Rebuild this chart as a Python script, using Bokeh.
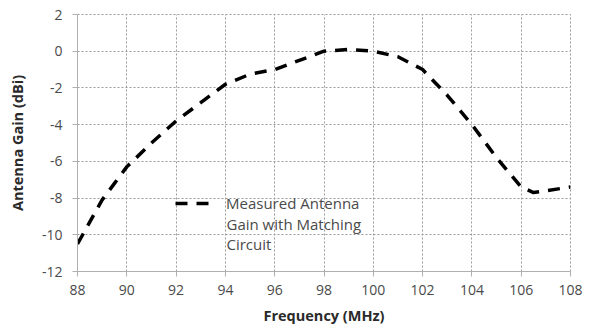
from bokeh.plotting import figure
from bokeh.models import FixedTicker, Legend, LegendItem, Range1d, Label
from bokeh.embed import file_html
from bokeh.resources import INLINE

freq = [88, 88.5, 89, 89.5, 90, 91, 92, 93, 94, 95, 96, 97, 98, 99, 100, 101, 102, 103, 104, 105, 105.5, 106, 106.5, 107, 108]
gain = [-10.5, -9.3, -8.1, -7.2, -6.3, -5.0, -3.8, -2.8, -1.8, -1.25, -1.0, -0.5, 0.0, 0.1, 0.0, -0.3, -1.0, -2.4, -4.0, -5.8, -6.6, -7.4, -7.7, -7.6, -7.4]

x_ticks = [88, 90, 92, 94, 96, 98, 100, 102, 104, 106, 108]
y_ticks = [2, 0, -2, -4, -6, -8, -10, -12]
y_tick_labels = ["2", "0", "-2", "-4", "-6", "-8", "-10", "-12"]
x_title = "Frequency (MHz)"
y_title = "Antenna Gain (dBi)"
series_lines = ["Measured Antenna", "Gain with Matching", "Circuit"]

FONT = "Open Sans"
GRID = "#9a9a9a"
TXT = "#4a4a4a"

p = figure(width=594, height=330, output_backend="svg", toolbar_location=None,
           x_range=Range1d(88, 108), y_range=Range1d(-12, 2),
           min_border_left=77, min_border_right=24, min_border_top=14, min_border_bottom=59)

r = p.line(freq, gain, line_color="black", line_width=3.5, line_dash="12 9")

p.xaxis.ticker = FixedTicker(ticks=x_ticks)
p.yaxis.ticker = FixedTicker(ticks=y_ticks)
p.yaxis.major_label_overrides = {t: s for t, s in zip(y_ticks, y_tick_labels)}
p.xaxis.axis_label = x_title
p.yaxis.axis_label = y_title

for ax in (p.xaxis[0], p.yaxis[0]):
    ax.axis_line_color = "#b0b0b0"
    ax.major_tick_line_color = "#b0b0b0"
    ax.major_tick_out = 5
    ax.major_tick_in = 0
    ax.minor_tick_line_color = None
    ax.major_label_text_font = FONT
    ax.major_label_text_font_size = "14px"
    ax.major_label_text_color = TXT
    ax.axis_label_text_font = FONT
    ax.axis_label_text_font_size = "14.5px"
    ax.axis_label_text_font_style = "bold"
    ax.axis_label_text_color = "#2a2a2a"
p.xaxis.major_label_standoff = 8
p.xaxis.axis_label_standoff = 8
p.yaxis.major_label_standoff = 10
p.yaxis.axis_label_standoff = 12

p.xgrid.grid_line_color = GRID
p.ygrid.grid_line_color = GRID
p.xgrid.grid_line_dash = "2 2"
p.ygrid.grid_line_dash = "2 2"
p.xgrid.ticker = FixedTicker(ticks=x_ticks)
p.ygrid.ticker = FixedTicker(ticks=y_ticks)
p.outline_line_color = GRID
p.outline_line_dash = "2 2"

legend = Legend(items=[LegendItem(label=series_lines[0], renderers=[r])],
                location=(98, 58), orientation="vertical",
                background_fill_alpha=0, border_line_color=None,
                padding=0, margin=0, glyph_width=37, glyph_height=20, label_standoff=14,
                label_height=20,
                label_text_font=FONT, label_text_font_size="15px",
                label_text_color=TXT)
p.add_layout(legend, "center")

for i, line in enumerate(series_lines[1:], start=1):
    p.add_layout(Label(x=98 + 37 + 14, y=68 - 20 * i, x_units="screen", y_units="screen",
                       text=line, text_font=FONT, text_font_size="15px",
                       text_color=TXT, text_baseline="middle", text_align="left"))

open("out.html", "w").write(file_html(p, INLINE))
